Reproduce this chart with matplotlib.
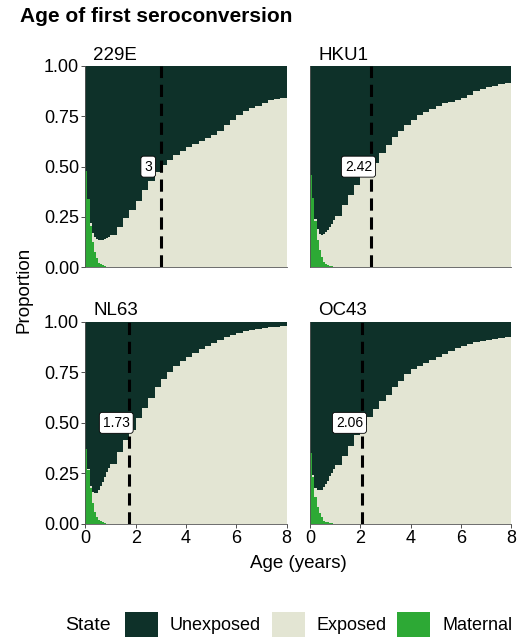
import matplotlib.pyplot as plt
from matplotlib.patches import Rectangle

plt.rcParams["font.family"] = ["Liberation Sans", "DejaVu Sans"]

# ---------------------------------------------------------------------------
# Data
# ---------------------------------------------------------------------------

VIRUSES = ["229E", "HKU1", "NL63", "OC43"]
MEDIANS = [3.0, 2.42, 1.73, 2.06]
MEDIAN_LABELS = ["3", "2.42", "1.73", "2.06"]

# monthly for the first year, then quarterly
AGES = [0, 0.083, 0.167, 0.25, 0.333, 0.417, 0.5, 0.583, 0.667, 0.75, 0.833, 0.917,
        1.0, 1.25, 1.5, 1.75, 2.0, 2.25, 2.5, 2.75, 3.0, 3.25, 3.5, 3.75, 4.0,
        4.25, 4.5, 4.75, 5.0, 5.25, 5.5, 5.75, 6.0, 6.25, 6.5, 6.75, 7.0, 7.25,
        7.5, 7.75, 8.0]
MONTHS = [0, 0.083, 0.167, 0.25, 0.333, 0.417, 0.5, 0.583, 0.667, 0.75, 0.833,
          0.917, 1.0]

# proportion ever exposed (maternal + exposed)
TOTAL_229E = [0.478, 0.34, 0.22, 0.17, 0.15, 0.14, 0.137, 0.137, 0.137, 0.14, 0.145,
              0.15, 0.16, 0.2, 0.245, 0.285, 0.33, 0.385, 0.43, 0.475, 0.51, 0.535,
              0.56, 0.58, 0.6, 0.615, 0.625, 0.64, 0.655, 0.675, 0.705, 0.73, 0.755,
              0.775, 0.79, 0.8, 0.815, 0.83, 0.835, 0.84, 0.845]
TOTAL_HKU1 = [0.46, 0.345, 0.24, 0.19, 0.165, 0.16, 0.165, 0.175, 0.187, 0.2, 0.215,
              0.235, 0.255, 0.31, 0.36, 0.41, 0.45, 0.48, 0.52, 0.57, 0.61, 0.645,
              0.675, 0.705, 0.73, 0.755, 0.77, 0.785, 0.8, 0.815, 0.82, 0.83, 0.84,
              0.855, 0.875, 0.885, 0.895, 0.9, 0.91, 0.915, 0.92]
TOTAL_NL63 = [0.37, 0.27, 0.19, 0.16, 0.152, 0.155, 0.17, 0.19, 0.21, 0.23, 0.255,
              0.275, 0.295, 0.355, 0.415, 0.465, 0.525, 0.575, 0.625, 0.675, 0.715,
              0.75, 0.78, 0.805, 0.825, 0.845, 0.865, 0.88, 0.895, 0.91, 0.925,
              0.935, 0.945, 0.952, 0.958, 0.963, 0.968, 0.972, 0.975, 0.977, 0.978]
TOTAL_OC43 = [0.349, 0.24, 0.18, 0.17, 0.168, 0.17, 0.185, 0.2, 0.215, 0.235, 0.25,
              0.27, 0.29, 0.335, 0.385, 0.44, 0.49, 0.53, 0.57, 0.61, 0.64, 0.675,
              0.705, 0.74, 0.765, 0.78, 0.795, 0.81, 0.825, 0.84, 0.855, 0.87, 0.88,
              0.89, 0.9, 0.905, 0.91, 0.915, 0.92, 0.925, 0.93]

# maternal antibodies, first year only
MATERNAL_229E = [0.478, 0.337, 0.203, 0.128, 0.078, 0.045, 0.023, 0.015, 0.01, 0.005, 0.0, 0.0, 0.0]
MATERNAL_HKU1 = [0.46, 0.345, 0.228, 0.137, 0.087, 0.053, 0.028, 0.018, 0.012, 0.008, 0.004, 0.0, 0.0]
MATERNAL_NL63 = [0.37, 0.267, 0.176, 0.102, 0.061, 0.036, 0.02, 0.015, 0.01, 0.005, 0.002, 0.0, 0.0]
MATERNAL_OC43 = [0.349, 0.234, 0.135, 0.086, 0.053, 0.033, 0.016, 0.012, 0.008, 0.005, 0.003, 0.001, 0.0]

TOTALS = [TOTAL_229E, TOTAL_HKU1, TOTAL_NL63, TOTAL_OC43]
MATERNALS = [MATERNAL_229E, MATERNAL_HKU1, MATERNAL_NL63, MATERNAL_OC43]

STATES = ["Unexposed", "Exposed", "Maternal"]
COLORS = {"Unexposed": "#0e3129", "Exposed": "#e3e5d3", "Maternal": "#2da935"}

# ---------------------------------------------------------------------------
# Figure
# ---------------------------------------------------------------------------

W, H = 525, 638
fig = plt.figure(figsize=(W / 100, H / 100), dpi=100)


def fx(px):
    return px / W


def fy(py):
    return 1 - py / H


# panel boxes in pixels
cols = [(85.3, 286.7), (310.3, 511.0)]
rows = [(66.0, 267.3), (321.7, 524.0)]

for i, virus in enumerate(VIRUSES):
    r, c = divmod(i, 2)
    x0, x1 = cols[c]
    y0, y1 = rows[r]
    ax = fig.add_axes([fx(x0), fy(y1), fx(x1 - x0), (y1 - y0) / H])

    total = TOTALS[i]
    ax.fill_between(AGES, total, 1, step="post", color=COLORS["Unexposed"], lw=0)
    ax.fill_between(AGES, 0, total, step="post", color=COLORS["Exposed"], lw=0)
    ax.fill_between(MONTHS, 0, MATERNALS[i], step="post", color=COLORS["Maternal"], lw=0)

    ax.axvline(MEDIANS[i], color="black", lw=2.2, dashes=(4, 2.2))
    ax.text(MEDIANS[i] - 0.5, 0.5, MEDIAN_LABELS[i], ha="center", va="center",
            fontsize=10,
            bbox=dict(boxstyle="round,pad=0.25,rounding_size=0.2", fc="white",
                      ec="black", lw=0.6))

    ax.set_xlim(0, 8)
    ax.set_ylim(0, 1)
    ax.set_xticks([0, 2, 4, 6, 8])
    ax.set_yticks([0, 0.25, 0.5, 0.75, 1.0])
    ax.set_yticklabels(["0.00", "0.25", "0.50", "0.75", "1.00"])
    for side in ["top", "right"]:
        ax.spines[side].set_visible(False)
    for side in ["left", "bottom"]:
        ax.spines[side].set_color("#555555")
        ax.spines[side].set_linewidth(0.6)
    ax.tick_params(length=3, width=0.6, color="#333333", labelsize=13,
                   labelcolor="black", pad=1.5)
    if r == 0:
        ax.tick_params(axis="x", bottom=False, labelbottom=False)
    if c == 1:
        ax.tick_params(axis="y", left=False, labelleft=False)

    ax.text(0.04, 1.012, virus, transform=ax.transAxes, ha="left", va="bottom",
            fontsize=13.5)

fig.text(fx(20), fy(16), "Age of first seroconversion", ha="left", va="center",
         fontsize=15, fontweight="bold")
fig.text(fx(24), fy(290), "Proportion", rotation=90, ha="center", va="center",
         fontsize=13.5)
fig.text(fx(298), fy(563), "Age (years)", ha="center", va="center", fontsize=13.5)

# legend drawn along the bottom edge
fig.text(fx(65), fy(625), "State", ha="left", va="center", fontsize=14)
key_x = [125, 272, 397]
for state, kx in zip(STATES, key_x):
    fig.add_artist(Rectangle((fx(kx), fy(637)), fx(33), 25 / H,
                             transform=fig.transFigure, fc=COLORS[state], ec="none"))
    fig.text(fx(kx + 45), fy(625), state, ha="left", va="center", fontsize=13)

fig.savefig("out.png", dpi=100)
